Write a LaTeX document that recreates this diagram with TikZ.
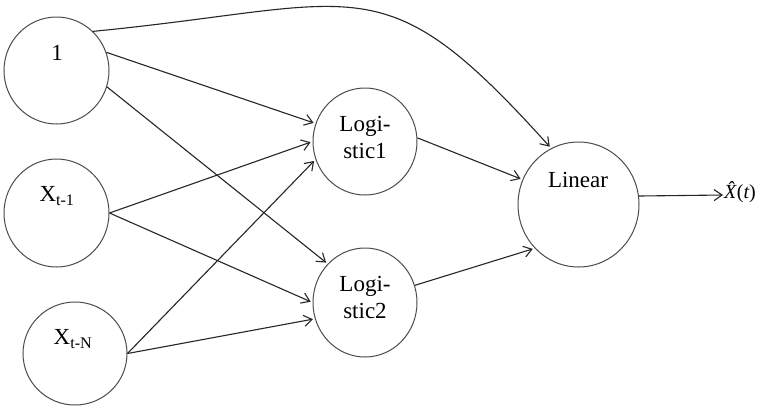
\documentclass[tikz,border=0pt]{standalone}
\usepackage{fontspec}
\setmainfont{Liberation Serif}
\usetikzlibrary{arrows.meta,shapes.geometric}
\begin{document}
\begin{tikzpicture}[x=1bp,y=-1bp,
  unit/.style={ellipse,draw=black!70,line width=1bp,inner sep=0pt},
  txt/.style={font=\fontsize{23bp}{27bp}\selectfont,inner sep=0pt,align=center},
  conn/.style={line width=1.1bp,draw=black!85,-{Straight Barb[length=8bp,width=11bp,line width=1.1bp]},shorten >=2bp}]
\path[use as bounding box,fill=white] (0,0) rectangle (760,410);
% units
\node[unit,minimum width=105bp,minimum height=107bp] (n1) at (56.5,70.5) {};
\node[unit,minimum width=105bp,minimum height=108bp] (x1) at (56.5,213) {};
\node[unit,minimum width=104bp,minimum height=103bp] (xN) at (75,353.5) {};
\node[unit,minimum width=104bp,minimum height=107bp] (L1) at (365,141.5) {};
\node[unit,minimum width=104bp,minimum height=109bp] (L2) at (365,302.5) {};
\node[unit,minimum width=121bp,minimum height=125bp] (Lin) at (578.5,204.5) {};
% texts
\node[txt] (t1) at (57,53) {1};
\node[txt] (tx1) at (57,196) {X\textsubscript{t-1}};
\node[txt] (txN) at (73,339) {X\textsubscript{t-N}};
\node[txt] (tL1) at (365,137) {Logi-\\stic1};
\node[txt] (tL2) at (365,297) {Logi-\\stic2};
\node[txt] (tLin) at (578,180) {Linear};
% connectors
\draw[conn] (n1.47) .. controls (364,5) and (381,-41) .. (Lin.116);
\draw[conn] (n1.20) -- (L1.160);
\draw[conn] (n1.-18) -- (L2.134);
\draw[conn] (x1.east) -- (L1.180);
\draw[conn] (x1.east) -- (L2.180);
\draw[conn] (xN.east) -- (L1.200);
\draw[conn] (xN.east) -- (L2.198);
\draw[conn] (L1.4) -- (Lin.156);
\draw[conn] (L2.19) -- (Lin.225);
\coordinate (out) at (723,195);
\draw[conn,shorten >=0pt] (Lin.8) -- (out);
\node[txt,font=\fontsize{20bp}{24bp}\selectfont,anchor=west] (xhat) at (724,192) {{\itshape\^{X}}\kern0.5bp({\itshape t})};
\end{tikzpicture}
\end{document}
